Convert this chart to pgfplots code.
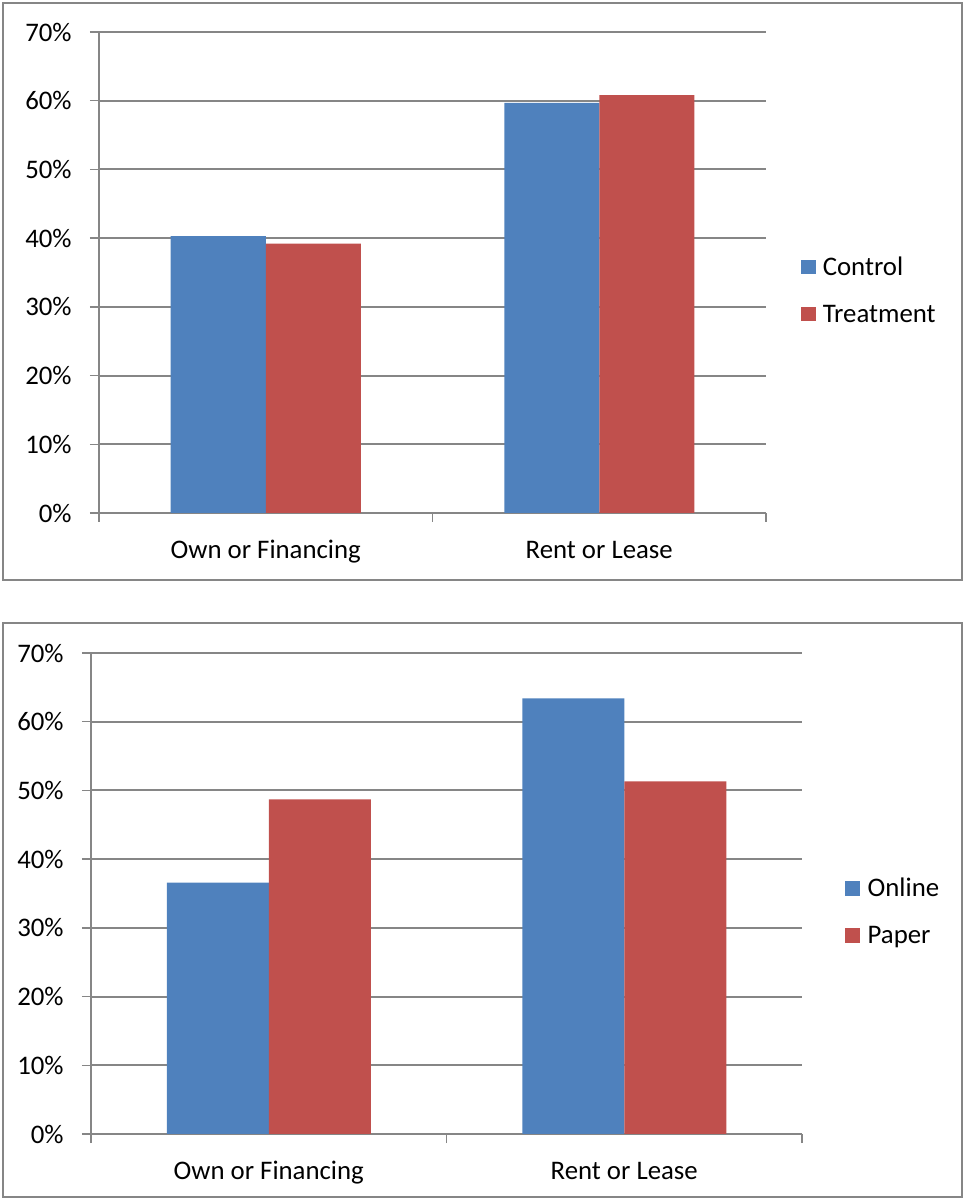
\documentclass[border=0pt]{standalone}
\usepackage{fontspec}
\setmainfont{Carlito}
\usepackage{pgfplots}
\pgfplotsset{compat=1.18}
\definecolor{xlblue}{HTML}{4F81BD}
\definecolor{xlred}{HTML}{C0504D}
\definecolor{gridgrey}{HTML}{868686}
\newcommand{\chartfont}{\fontsize{13.4pt}{16pt}\selectfont}
\pgfplotsset{
  xlchart/.style={
    scale only axis,
    axis x line=bottom, axis y line=left,
    axis line style={-, draw=gridgrey, line width=0.75pt},
    ymin=0, ymax=70, ytick={0,10,...,70},
    yticklabel={\pgfmathprintnumber{\tick}\%},
    ymajorgrids, grid style={draw=gridgrey, line width=1pt},
    xmin=-0.5, xmax=1.5, xtick={-0.5,0.5,1.5}, xticklabels={,,},
    extra x ticks={0,1},
    extra x tick labels={Own or Financing, Rent or Lease},
    extra x tick style={major tick length=0pt},
    tick align=outside, major tick length=4.5pt,
    tick style={draw=gridgrey, line width=0.75pt},
    /pgf/number format/assume math mode=true,
    yticklabel style={anchor=east, inner sep=0pt, xshift=-9pt, font=\chartfont},
    xticklabel style={anchor=base, inner sep=0pt, yshift=-22.65pt, font=\chartfont},
    ybar,
    legend style={draw=none, fill=none, inner sep=0pt, anchor=north west, font=\chartfont,
      nodes={inner sep=0pt, text height=10pt, text depth=3pt, anchor=base west},
      row sep=10.35pt, column sep=3.6pt},
  }
}
\begin{document}
\begin{tikzpicture}
\path[use as bounding box] (0,0) rectangle (482pt,600pt);
\draw[gridgrey, line width=0.75pt] (1.5pt,310pt) rectangle (481pt,598.5pt);
\draw[gridgrey, line width=0.75pt] (1.5pt,1.5pt) rectangle (481pt,288.5pt);
% top chart
\begin{axis}[xlchart,
  at={(49.5pt,343.5pt)}, anchor=south west,
  width=333.5pt, height=240.5pt,
  bar width=47.5pt,
  legend image code/.code={\fill[#1] (0pt,0.5pt) rectangle (7.25pt,7.75pt);},
  legend style={at={(1.052,0.5364)}},
]
\addplot[fill=xlblue, draw=none, bar shift=-23.75pt] coordinates {(0,40.3) (1,59.7)};
\addplot[fill=xlred, draw=none, bar shift=23.75pt] coordinates {(0,39.2) (1,60.8)};
\legend{Control, Treatment}
\end{axis}
% bottom chart
\begin{axis}[xlchart,
  at={(45.5pt,33pt)}, anchor=south west,
  width=355.5pt, height=240.5pt,
  bar width=51pt,
  legend image code/.code={\fill[#1] (0pt,0.25pt) rectangle (7.5pt,7.75pt);},
  legend style={at={(1.0606,0.5354)}},
]
\addplot[fill=xlblue, draw=none, bar shift=-25.5pt] coordinates {(0,36.6) (1,63.4)};
\addplot[fill=xlred, draw=none, bar shift=25.5pt] coordinates {(0,48.7) (1,51.3)};
\legend{Online, Paper}
\end{axis}
\end{tikzpicture}
\end{document}
